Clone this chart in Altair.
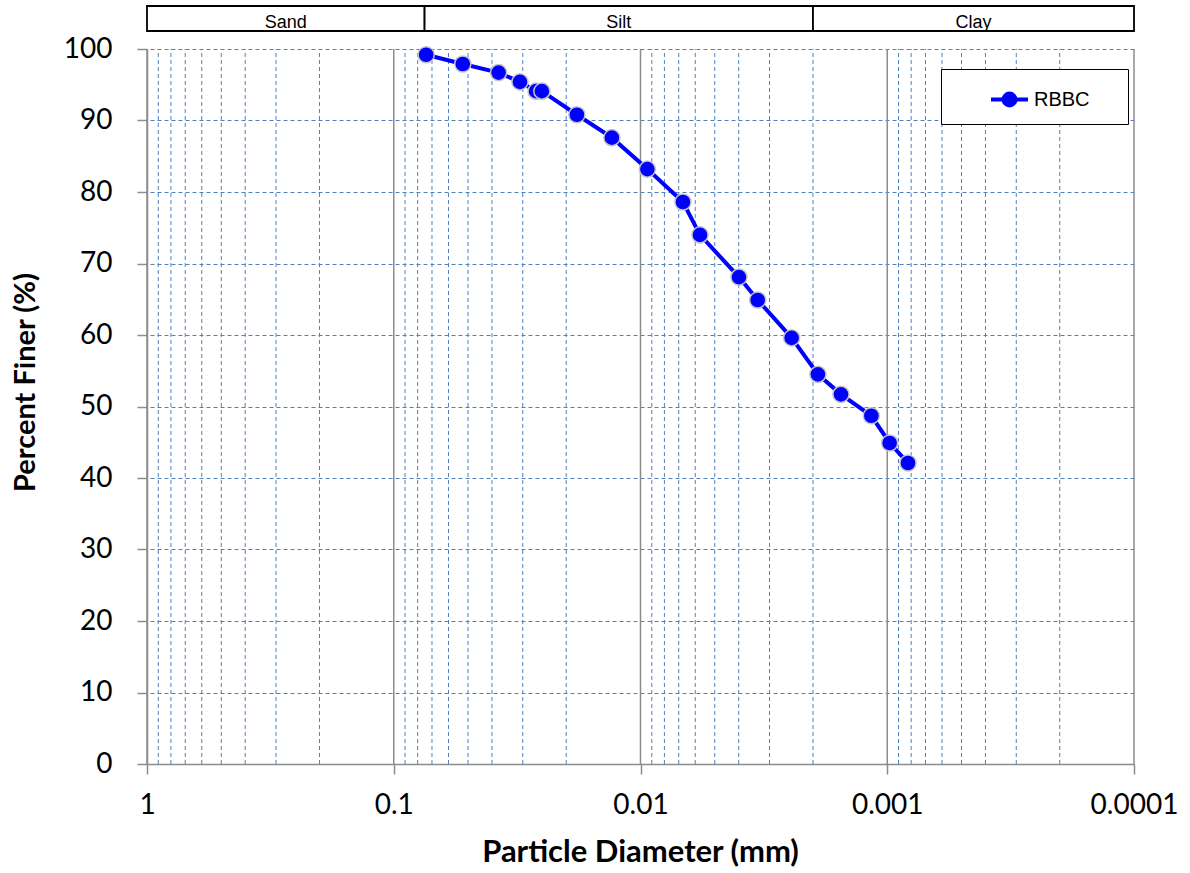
import altair as alt
import pandas as pd

# ---- data ----
diameter_mm = [0.0739, 0.0525, 0.0376, 0.0308, 0.0265, 0.0251, 0.0181, 0.01306,
               0.00938, 0.00673, 0.00574, 0.00399, 0.00335, 0.00244, 0.00191,
               0.00154, 0.00116, 0.000978, 0.000824]
percent_finer = [99.2, 97.9, 96.7, 95.4, 94.1, 94.1, 90.8, 87.6, 83.2, 78.6,
                 74.0, 68.1, 64.9, 59.6, 54.5, 51.7, 48.7, 44.9, 42.1]
series_name = "RBBC"

band_names = ["Sand", "Silt", "Clay"]
band_start = [1.0, 0.075, 0.002]
band_end = [0.075, 0.002, 0.0001]

major_x = [1, 0.1, 0.01, 0.001, 0.0001]
minor_x = [0.9, 0.8, 0.7, 0.6, 0.5, 0.4, 0.3, 0.2,
           0.09, 0.08, 0.07, 0.06, 0.05, 0.04, 0.03, 0.02,
           0.009, 0.008, 0.007, 0.006, 0.005, 0.004, 0.003, 0.002,
           0.0009, 0.0008, 0.0007, 0.0006, 0.0005, 0.0004, 0.0003, 0.0002]
y_ticks = [0, 10, 20, 30, 40, 50, 60, 70, 80, 90, 100]

# ---- tables ----
df = pd.DataFrame({"d": diameter_mm, "p": percent_finer, "series": series_name})
minor_df = pd.DataFrame({"x": minor_x, "y0": 0, "y1": 100})
major_df = pd.DataFrame({"x": major_x, "y0": 0, "y1": 100})
band_df = pd.DataFrame({"name": band_names, "start": band_start, "end": band_end})

GRAY = "#8c8c8c"
GRID_BLUE = "#4f81bd"
BLUE = "#0000ff"
FONT = "Lato"

x_scale = alt.Scale(type="log", domain=[0.0001, 1], reverse=True, nice=False)
y_scale = alt.Scale(domain=[0, 100], nice=False, zero=False)

x_axis = alt.Axis(
    values=major_x, format=".4~f", title="Particle Diameter (mm)",
    grid=False, domainColor=GRAY, domainWidth=1.5, tickColor=GRAY, tickWidth=1.5,
    tickSize=10, labelFont=FONT, labelFontSize=28, labelColor="black",
    labelPadding=17, labelFlush=False, labelOverlap=False,
    titleFont=FONT, titleFontSize=31, titleFontWeight="bold", titleColor="black",
    titleX=493, titleY=88, titleAlign="center", titleBaseline="middle",
)
y_axis = alt.Axis(
    values=y_ticks, title="Percent Finer (%)",
    grid=True, gridColor=GRID_BLUE, gridDash=[4, 3], gridWidth=1,
    domainColor=GRAY, domainWidth=1.5, tickColor=GRAY, tickWidth=1.5, tickSize=10,
    labelFont=FONT, labelFontSize=28, labelColor="black", labelPadding=25,
    labelOverlap=False,
    titleFont=FONT, titleFontSize=29, titleFontWeight="bold", titleColor="black",
    titleAngle=270, titleX=-122, titleY=333, titleAlign="center",
    titleBaseline="middle",
)


def X(field):
    return alt.X(field, type="quantitative", scale=x_scale, axis=x_axis)


def Y(field):
    return alt.Y(field, type="quantitative", scale=y_scale, axis=y_axis)


minor_rules = alt.Chart(minor_df).mark_rule(
    color=GRID_BLUE, strokeDash=[4, 3], strokeWidth=1
).encode(x=X("x"), y=Y("y0"), y2="y1")

major_rules = alt.Chart(major_df).mark_rule(
    color=GRAY, strokeWidth=1.5
).encode(x=X("x"), y=Y("y0"), y2="y1")

line = alt.Chart(df).mark_line(color=BLUE, strokeWidth=4).encode(
    x=X("d"), y=Y("p")
)

legend_symbol = "M-1,0L1,0M-0.32,0A0.32,0.32,0,1,0,0.32,0A0.32,0.32,0,1,0,-0.32,0Z"

points = alt.Chart(df).mark_point(
    filled=True, size=260, stroke="#c4c4cc", strokeWidth=1.5, opacity=1
).encode(
    x=X("d"), y=Y("p"),
    color=alt.Color(
        "series:N", scale=alt.Scale(range=[BLUE]),
        legend=alt.Legend(
            orient="none", legendX=794, legendY=20,
            title="\u2003", titleOrient="right", titleFontSize=20,
            titleFont="Liberation Sans", titlePadding=28,
            symbolType=legend_symbol, symbolSize=1369, symbolStrokeWidth=4,
            symbolFillColor=BLUE, symbolStrokeColor=BLUE, symbolOpacity=1,
            labelFont="Liberation Sans", labelFontSize=20, labelColor="black",
            fillColor="white", strokeColor="black",
            padding=10, symbolOffset=38, labelOffset=4, cornerRadius=0,
        ),
    ),
)

bands = alt.Chart(band_df).mark_rect(
    fill="white", stroke="black", strokeWidth=1.8
).encode(x=X("start"), x2="end", y=alt.value(-43), y2=alt.value(-18))

band_text = alt.Chart(band_df).transform_calculate(
    mid="sqrt(datum.start * datum.end)"
).mark_text(
    font="Liberation Sans", fontSize=18, color="black",
    baseline="alphabetic", align="center"
).encode(x=X("mid"), y=alt.value(-21), text="name:N")

chart = alt.layer(
    minor_rules, major_rules, line, points, bands, band_text
).properties(
    width=987, height=715,
    autosize=alt.AutoSizeParams(type="none"),
    padding={"left": 147, "top": 49, "right": 56, "bottom": 109},
).configure_view(strokeWidth=0)

chart.save("out.html", embed_options={"renderer": "svg", "actions": False})
